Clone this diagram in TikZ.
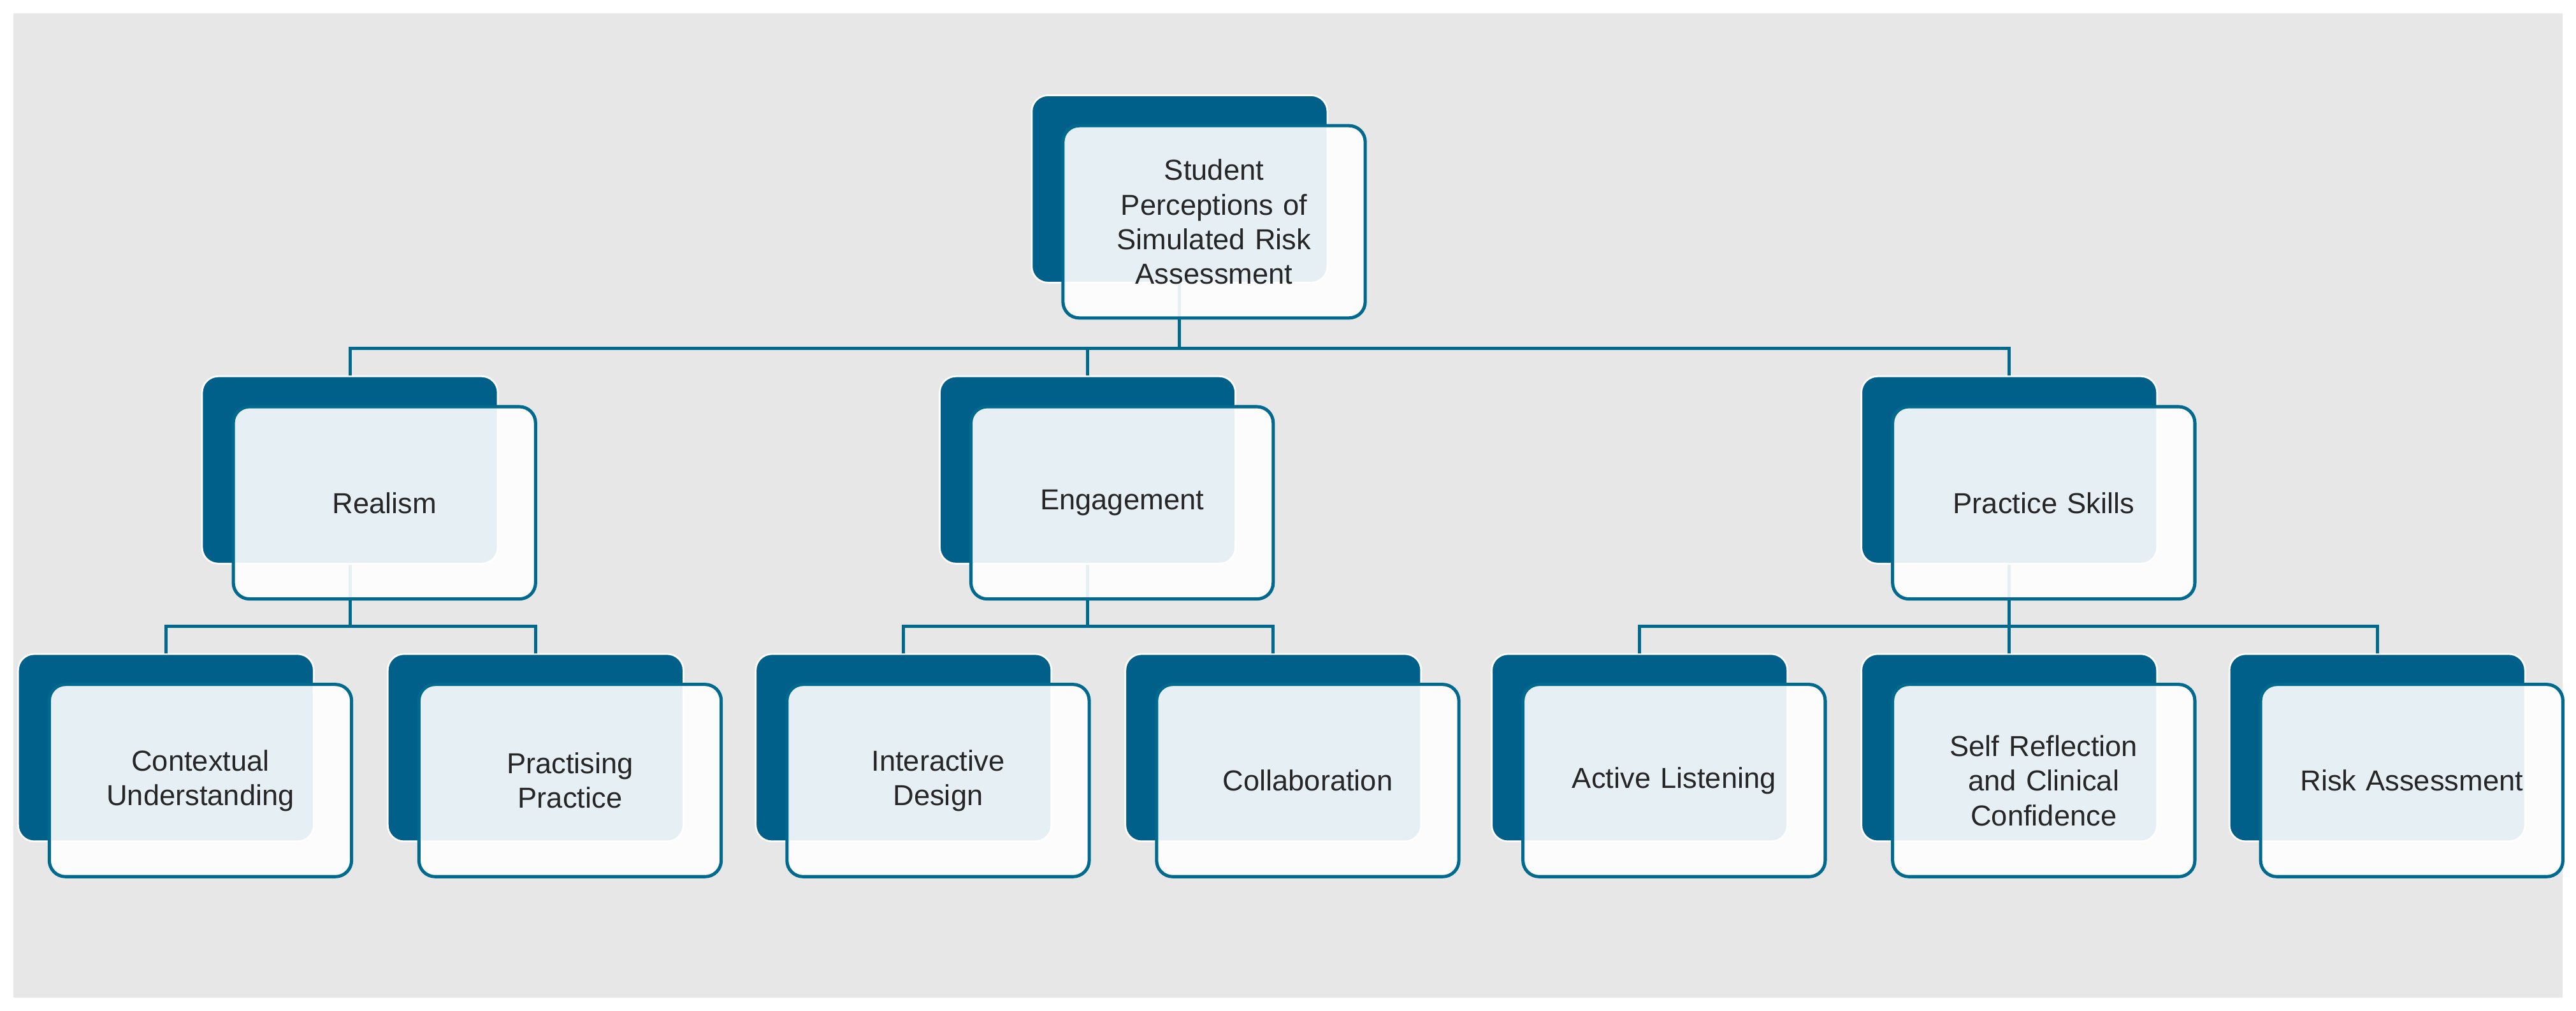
\documentclass[tikz,border=0pt]{standalone}
\usepackage{fontspec}
\setmainfont{Liberation Sans}
\definecolor{dk}{HTML}{00608A}
\definecolor{ln}{HTML}{006A8E}
\definecolor{bg}{HTML}{E7E7E7}
\begin{document}
\begin{tikzpicture}[x=0.05cm,y=-0.05cm,
  back/.style={draw=white,line width=1.5pt,fill=dk,rounded corners=14pt,minimum width=9cm,minimum height=5.7cm,inner sep=0pt},
  front/.style={draw=ln,line width=2.8pt,fill=white,fill opacity=0.9,text opacity=1,rounded corners=14pt,minimum width=9.2cm,minimum height=5.85cm,inner sep=0pt,text width=8.6cm,align=center,font=\fontsize{25}{30}\selectfont,text=black!85},
  con/.style={draw=ln,line width=2.8pt}]
\fill[white] (0,0) rectangle (1568,615);
\useasboundingbox (0,0) rectangle (1568,615);
\fill[bg] (8,8) rectangle (1560,607);
\newcommand\bk[3]{\node[back] (#1b) at ({#2+90},{#3+57}) {};}
\newcommand\fr[4]{\node[front] (#1) at ({#2+111},{#3+77}) {#4};}
% back boxes
\bk{top}{628}{58}
\bk{real}{123}{229}\bk{eng}{572}{229}\bk{skill}{1133}{229}
\bk{ctx}{11}{398}\bk{prac}{236}{398}\bk{inter}{460}{398}\bk{coll}{685}{398}
\bk{act}{908}{398}\bk{self}{1133}{398}\bk{risk}{1357}{398}
% connectors
\draw[con] (topb.south) -- (topb.south |- 0,212);
\draw[con] (realb.north) -- (realb.north |- 0,212) -- (skillb.north |- 0,212) -- (skillb.north);
\draw[con] (engb.north) -- (engb.north |- 0,212);
\draw[con] (realb.south) -- (realb.south |- 0,381);
\draw[con] (ctxb.north) -- (ctxb.north |- 0,381) -- (pracb.north |- 0,381) -- (pracb.north);
\draw[con] (engb.south) -- (engb.south |- 0,381);
\draw[con] (interb.north) -- (interb.north |- 0,381) -- (collb.north |- 0,381) -- (collb.north);
\draw[con] (skillb.south) -- (selfb.north);
\draw[con] (actb.north) -- (actb.north |- 0,381) -- (riskb.north |- 0,381) -- (riskb.north);
% front boxes
\fr{top}{628}{58}{Student\\Perceptions of\\Simulated Risk\\Assessment}
\fr{real}{123}{229}{Realism}
\fr{eng}{572}{229}{Engagement}
\fr{skill}{1133}{229}{Practice Skills}
\fr{ctx}{11}{398}{Contextual\\Understanding}
\fr{prac}{236}{398}{Practising\\Practice}
\fr{inter}{460}{398}{Interactive\\Design}
\fr{coll}{685}{398}{Collaboration}
\fr{act}{908}{398}{Active Listening}
\fr{self}{1133}{398}{Self Reflection\\and Clinical\\Confidence}
\fr{risk}{1357}{398}{Risk Assessment}
\end{tikzpicture}
\end{document}
